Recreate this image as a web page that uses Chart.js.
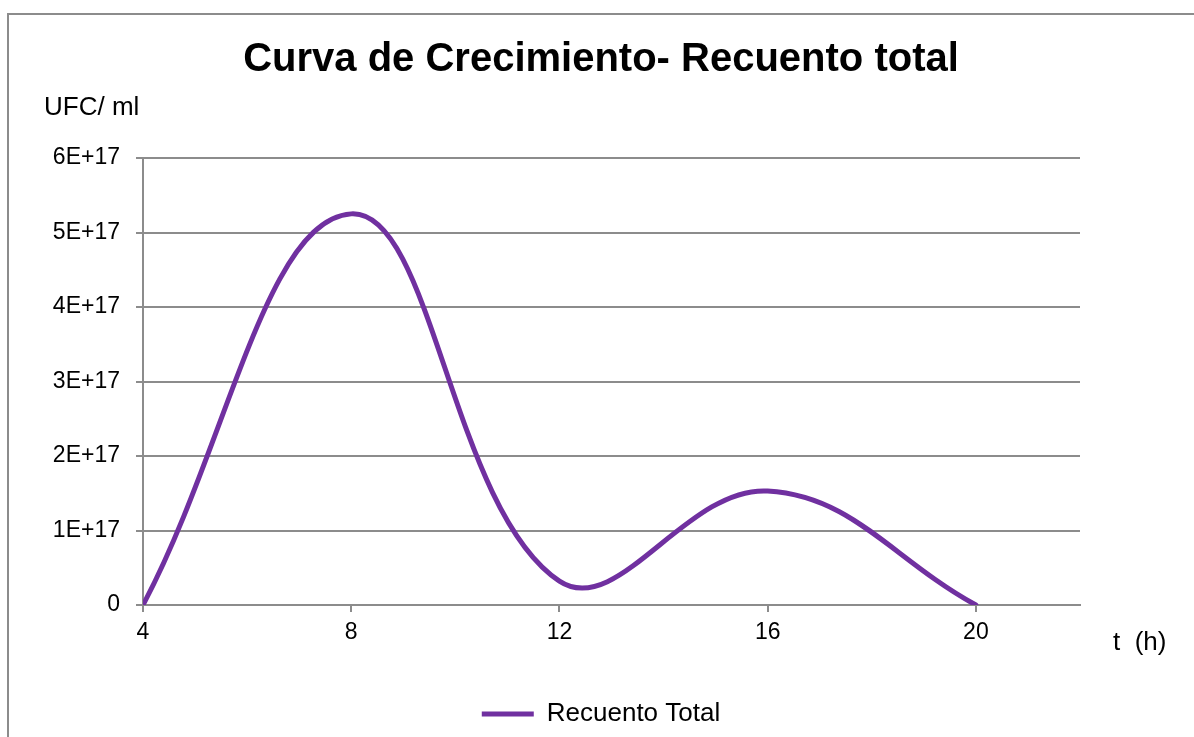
<!DOCTYPE html>
<html>
<head>
<meta charset="utf-8">
<script src="https://cdn.jsdelivr.net/npm/chart.js@4/dist/chart.umd.min.js"></script>
<style>
  html, body { margin: 0; padding: 0; background: #fff; overflow: hidden; }
  #frame { position: absolute; left: 7px; top: 13px; width: 1220px; height: 800px; border: 2px solid #8c8c8c; }
  #growthChart { position: absolute; left: 0; top: 0; }
</style>
</head>
<body>
<div id="frame"></div>
<canvas id="growthChart" width="1194" height="737"></canvas>
<script>
// Horas de muestreo y recuento total (UFC/ml)
const hours = [4, 8, 12, 16, 20];
const totalCount = [0, 5.25e17, 0.32e17, 1.53e17, 0];

// Marcas de los ejes
const xTicks = [4, 8, 12, 16, 20];
const yTicks = [0, 1e17, 2e17, 3e17, 4e17, 5e17, 6e17];

const FONT = "'Liberation Sans', Arial, sans-serif";
const GRID = '#8c8c8c';
const PURPLE = '#7030a0';

// Axis captions drawn as plain text (Excel puts them horizontal, outside the axes)
const axisCaptions = {
    id: 'axisCaptions',
    afterDraw(chart) {
        const { ctx, chartArea } = chart;
        ctx.save();
        ctx.fillStyle = '#000';
        ctx.font = '26px ' + FONT;
        ctx.textAlign = 'left';
        ctx.textBaseline = 'middle';
        ctx.fillText('UFC/ ml', chartArea.left - 99, chartArea.top - 50);
        ctx.fillText('t  (h)', chartArea.right + 33, chartArea.bottom + 38);
        ctx.restore();
    }
};

const ctx = document.getElementById('growthChart').getContext('2d');
new Chart(ctx, {
    type: 'line',
    data: {
        datasets: [{
            label: 'Recuento Total',
            data: hours.map((h, i) => ({ x: h, y: totalCount[i] })),
            borderColor: PURPLE,
            backgroundColor: PURPLE,
            borderWidth: 5,
            borderCapStyle: 'round',
            tension: 0.4,
            capBezierPoints: false,
            pointRadius: 0,
            fill: false
        }]
    },
    options: {
        responsive: false,
        animation: false,
        layout: { padding: { left: 8, right: 0, top: 0, bottom: 0 } },
        elements: { line: { capBezierPoints: false } },
        plugins: {
            title: {
                display: true,
                text: 'Curva de Crecimiento- Recuento total',
                color: '#000',
                font: { family: FONT, size: 40, weight: 'bold' },
                padding: { top: 36, bottom: 74 }
            },
            legend: {
                position: 'bottom',
                labels: {
                    color: '#000',
                    font: { family: FONT, size: 26 },
                    usePointStyle: true,
                    pointStyle: 'line',
                    pointStyleWidth: 52,
                    padding: 10
                }
            },
            tooltip: { enabled: false }
        },
        scales: {
            x: {
                type: 'linear',
                min: 4,
                max: 22,
                afterBuildTicks: function (scale) {
                    scale.ticks = xTicks.map(v => ({ value: v }));
                },
                afterFit: function (scale) {
                    scale.height = 86;
                },
                ticks: {
                    color: '#000',
                    font: { family: FONT, size: 23 },
                    padding: 7,
                    maxRotation: 0
                },
                grid: {
                    drawOnChartArea: false,
                    drawTicks: true,
                    tickLength: 7,
                    color: GRID,
                    lineWidth: 2
                },
                border: { display: true, color: GRID, width: 2 }
            },
            y: {
                type: 'linear',
                min: 0,
                max: 6e17,
                afterBuildTicks: function (scale) {
                    scale.ticks = yTicks.map(v => ({ value: v }));
                },
                afterFit: function (scale) {
                    scale.width = 135;
                },
                ticks: {
                    color: '#000',
                    font: { family: FONT, size: 23 },
                    padding: 16,
                    callback: function (value) {
                        if (value === 0) return '0';
                        return Math.round(value / 1e17) + 'E+17';
                    }
                },
                grid: {
                    drawTicks: true,
                    tickLength: 7,
                    color: GRID,
                    lineWidth: 2
                },
                border: { display: true, color: GRID, width: 2 }
            },
            // empty right-hand box so the plot ends where Excel's does
            spacer: {
                type: 'linear',
                position: 'right',
                display: true,
                afterFit: function (scale) {
                    scale.width = 114;
                },
                ticks: { display: false },
                grid: { display: false },
                border: { display: false }
            }
        }
    },
    plugins: [axisCaptions]
});
</script>
</body>
</html>
